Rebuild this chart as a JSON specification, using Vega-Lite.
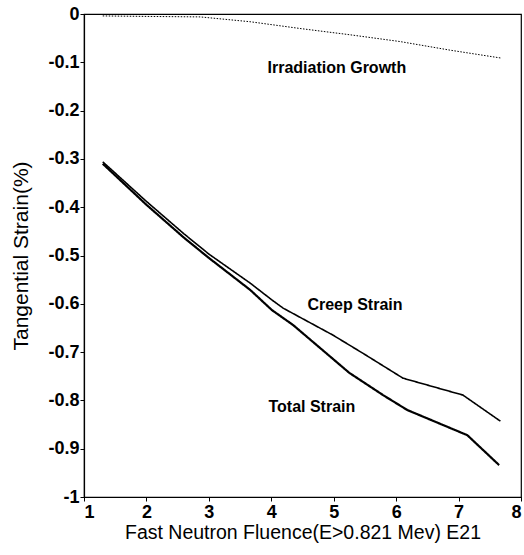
{
  "$schema": "https://vega.github.io/schema/vega-lite/v6.json",
  "width": 437,
  "height": 483,
  "autosize": {"type": "none"},
  "padding": {"left": 84, "top": 14, "right": 3, "bottom": 58},
  "background": "white",
  "config": {
    "view": {"stroke": "black", "strokeWidth": 1.2},
    "font": "Liberation Sans",
    "axis": {
      "domainColor": "black", "tickColor": "black", "labelColor": "black", "titleColor": "black",
      "grid": false, "labelFont": "Liberation Sans", "titleFont": "Liberation Sans",
      "labelFontSize": 18, "labelFontWeight": "bold", "titleFontSize": 19.5, "titleFontWeight": "normal",
      "tickSize": 4, "domainWidth": 1.2
    }
  },
  "datasets": {
    "lines": [
      {"series": "Total", "x": 1.3, "y": -0.31},
      {"series": "Total", "x": 2.0, "y": -0.395},
      {"series": "Total", "x": 2.6, "y": -0.463},
      {"series": "Total", "x": 3.0, "y": -0.505},
      {"series": "Total", "x": 3.66, "y": -0.571},
      {"series": "Total", "x": 4.01, "y": -0.613},
      {"series": "Total", "x": 4.35, "y": -0.644},
      {"series": "Total", "x": 5.25, "y": -0.743},
      {"series": "Total", "x": 5.79, "y": -0.789},
      {"series": "Total", "x": 6.18, "y": -0.82},
      {"series": "Total", "x": 7.14, "y": -0.872},
      {"series": "Total", "x": 7.65, "y": -0.934},
      {"series": "Creep", "x": 1.3, "y": -0.306},
      {"series": "Creep", "x": 2.0, "y": -0.388},
      {"series": "Creep", "x": 2.6, "y": -0.455},
      {"series": "Creep", "x": 3.0, "y": -0.497},
      {"series": "Creep", "x": 3.66, "y": -0.557},
      {"series": "Creep", "x": 4.01, "y": -0.592},
      {"series": "Creep", "x": 4.19, "y": -0.609},
      {"series": "Creep", "x": 4.99, "y": -0.665},
      {"series": "Creep", "x": 5.5, "y": -0.705},
      {"series": "Creep", "x": 6.11, "y": -0.754},
      {"series": "Creep", "x": 7.07, "y": -0.789},
      {"series": "Creep", "x": 7.67, "y": -0.843},
      {"series": "Growth", "x": 1.3, "y": -0.004},
      {"series": "Growth", "x": 2.0, "y": -0.005},
      {"series": "Growth", "x": 2.86, "y": -0.006},
      {"series": "Growth", "x": 3.66, "y": -0.016},
      {"series": "Growth", "x": 4.46, "y": -0.03},
      {"series": "Growth", "x": 5.26, "y": -0.043},
      {"series": "Growth", "x": 6.06, "y": -0.057},
      {"series": "Growth", "x": 6.87, "y": -0.075},
      {"series": "Growth", "x": 7.67, "y": -0.091}
    ],
    "labels": [
      {"x": 5.05, "y": -0.112, "text": "Irradiation Growth"},
      {"x": 5.34, "y": -0.602, "text": "Creep Strain"},
      {"x": 4.65, "y": -0.814, "text": "Total Strain"}
    ]
  },
  "layer": [
    {
      "data": {"name": "lines"},
      "mark": {"type": "line", "color": "black"},
      "encoding": {
        "x": {"field": "x", "type": "quantitative", "scale": {"domain": [1, 8], "nice": false, "zero": false},
              "axis": {"values": [1,2,3,4,5,6,7,8], "format": "d", "title": "Fast Neutron Fluence(E>0.821 Mev) E21", "titlePadding": 2, "labelPadding": 2}},
        "y": {"field": "y", "type": "quantitative", "scale": {"domain": [-1, 0], "nice": false, "zero": false},
              "axis": {"values": [0,-0.1,-0.2,-0.3,-0.4,-0.5,-0.6,-0.7,-0.8,-0.9,-1],
                       "labelExpr": "replace(format(datum.value, '~g'), '\u2212', '-')",
                       "labelPadding": 1,
                       "title": "Tangential Strain(%)", "titleFontSize": 21, "titlePadding": 16}},
        "detail": {"field": "series"},
        "strokeWidth": {"field": "series", "type": "nominal", "scale": {"domain": ["Total", "Creep", "Growth"], "range": [2.2, 1, 1]}, "legend": null},
        "strokeDash": {"field": "series", "type": "nominal", "scale": {"domain": ["Total", "Creep", "Growth"], "range": [[1,0],[1,0],[1.5,1.5]]}, "legend": null}
      }
    },
    {
      "data": {"name": "labels"},
      "mark": {"type": "text", "color": "black", "fontSize": 16, "fontWeight": "bold", "font": "Liberation Sans"},
      "encoding": {
        "x": {"field": "x", "type": "quantitative"},
        "y": {"field": "y", "type": "quantitative"},
        "text": {"field": "text"}
      }
    }
  ]
}
